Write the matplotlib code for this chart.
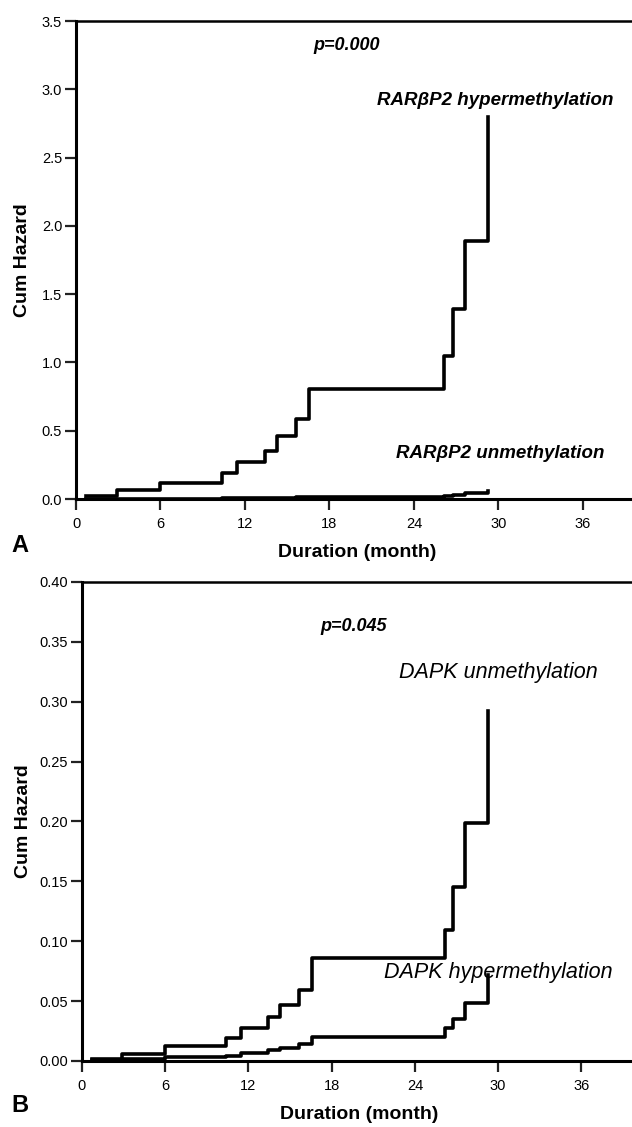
import numpy as np
import matplotlib
matplotlib.use('Agg')
import matplotlib.pyplot as plt
from matplotlib.ticker import FormatStrFormatter

plt.rcParams['font.family'] = ['Liberation Sans', 'DejaVu Sans']

# event times (months), shared by both panels
months = [0.71, 2.9, 5.95, 10.4, 11.45, 13.4, 14.25, 15.65, 16.55, 26.15, 26.75, 27.6, 29.25]

# panel A: RARbetaP2
rar_hyper = [0.025, 0.066, 0.12, 0.19, 0.27, 0.355, 0.46, 0.585, 0.805, 1.05, 1.395, 1.89, 2.80]
rar_unmeth = [0.0005, 0.0015, 0.0027, 0.004, 0.006, 0.008, 0.010, 0.013, 0.018, 0.023, 0.031, 0.042, 0.062]

# panel B: DAPK
dapk_unmeth = [0.002, 0.006, 0.0122, 0.0192, 0.0275, 0.0367, 0.047, 0.0595, 0.0857, 0.1094, 0.1456, 0.1987, 0.292]
dapk_hyper = [0.0005, 0.0015, 0.003, 0.0045, 0.0065, 0.0088, 0.011, 0.0145, 0.0203, 0.0275, 0.035, 0.0484, 0.072]

xticks = [0, 6, 12, 18, 24, 30, 36]

fig = plt.figure(figsize=(6.32, 11.27), dpi=100)
axA = fig.add_axes([0.1203, 0.5572, 0.891, 0.4241])
axB = fig.add_axes([0.1297, 0.0586, 0.878, 0.4250])


def style(ax, ylim, yticks, fmt, ylab_x):
    ax.set_xlim(0, 40)
    ax.set_ylim(*ylim)
    ax.set_xticks(xticks)
    ax.set_yticks(yticks)
    ax.yaxis.set_major_formatter(FormatStrFormatter(fmt))
    ax.spines['right'].set_visible(False)
    ax.spines['left'].set_linewidth(2.2)
    ax.spines['bottom'].set_linewidth(2.2)
    ax.spines['top'].set_linewidth(1.8)
    ax.tick_params(axis='both', direction='out', length=8, width=1.6,
                   labelsize=10.5, color='#222222')
    ax.tick_params(axis='x', pad=5)
    ax.tick_params(axis='y', pad=2)
    ax.set_xlabel('Duration (month)', fontsize=14, fontweight='bold', labelpad=9)
    ax.set_ylabel('Cum Hazard', fontsize=14, fontweight='bold')
    ax.yaxis.set_label_coords(ylab_x, 0.5)


lw = 2.6
axA.step(months, rar_hyper, where='post', color='black', lw=lw)
axA.step(months, rar_unmeth, where='post', color='black', lw=lw)
style(axA, (0, 3.5), np.arange(0, 3.51, 0.5), '%.1f', -0.080)
axA.text(19.2, 3.32, 'p=0.000', fontsize=13, fontweight='bold', style='italic',
         ha='center', va='center')
axA.text(29.8, 2.92, 'RARβP2 hypermethylation', fontsize=13.5, fontweight='bold',
         style='italic', ha='center', va='center')
axA.text(30.1, 0.33, 'RARβP2 unmethylation', fontsize=13.5, fontweight='bold',
         style='italic', ha='center', va='center')

axB.step(months, dapk_unmeth, where='post', color='black', lw=lw)
axB.step(months, dapk_hyper, where='post', color='black', lw=lw)
style(axB, (0, 0.40), np.arange(0, 0.401, 0.05), '%.2f', -0.090)
axB.text(19.6, 0.363, 'p=0.045', fontsize=13, fontweight='bold', style='italic',
         ha='center', va='center')
axB.text(30.0, 0.324, 'DAPK unmethylation', fontsize=15.5, style='italic',
         ha='center', va='center')
axB.text(30.0, 0.0735, 'DAPK hypermethylation', fontsize=15.5, style='italic',
         ha='center', va='center')

fig.text(20 / 632, 1 - 545 / 1127, 'A', fontsize=17, fontweight='bold', ha='center', va='center')
fig.text(20 / 632, 1 - 1106 / 1127, 'B', fontsize=17, fontweight='bold', ha='center', va='center')

fig.savefig('out.png', dpi=100)
